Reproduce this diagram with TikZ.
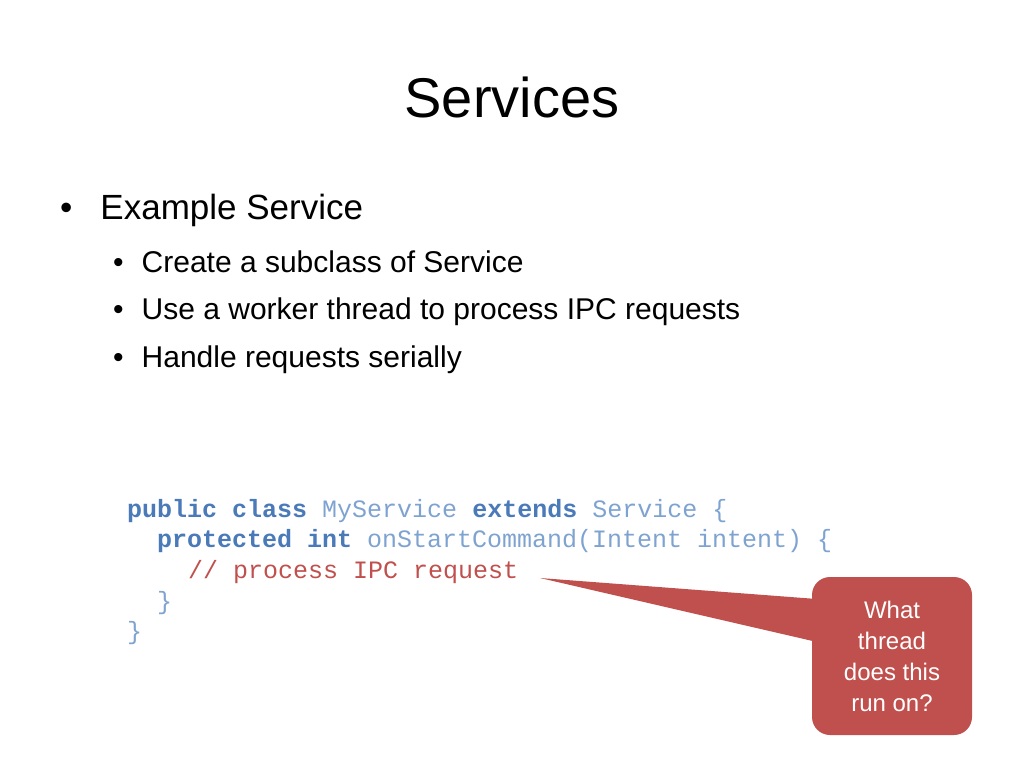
\documentclass[tikz,border=0pt]{standalone}
\usepackage{fontspec}
\setmainfont{Liberation Sans}
\setmonofont{Liberation Mono}
\definecolor{kw}{HTML}{4A7AB8}
\definecolor{lt}{HTML}{7FA3D0}
\definecolor{callred}{HTML}{C0504D}
\tikzset{txt/.style={anchor=west,inner sep=0pt},
code/.style={anchor=west,inner sep=0pt,font=\fontsize{25}{25}\ttfamily}}
\begin{document}
\begin{tikzpicture}[x=1pt,y=-1pt]
\useasboundingbox (0,0) rectangle (1024,768);
\node (title) at (512,97) {\fontsize{56}{56}\selectfont Services};
\node[txt] (b0) at (60,210) {\fontsize{35}{35}\selectfont\textbullet\hspace{28pt}Example Service};
\node[txt] (b1) at (113,262) {\fontsize{30}{30}\selectfont\textbullet\hspace{18pt}Create a subclass of Service};
\node[txt] (b2) at (113,312) {\fontsize{30}{30}\selectfont\textbullet\hspace{18pt}Use a worker thread to process IPC requests};
\node[txt] (b3) at (113,360) {\fontsize{30}{30}\selectfont\textbullet\hspace{18pt}Handle requests serially};
\node[code] (c1) at (127,511) {\textcolor{kw}{\bfseries public class} \textcolor{lt}{MyService} \textcolor{kw}{\bfseries extends} \textcolor{lt}{Service \{}};
\node[code] (c2) at (157,541) {\textcolor{kw}{\bfseries protected int} \textcolor{lt}{onStartCommand(Intent intent) \{}};
\node[code] (c3) at (188,572) {\textcolor{callred}{// process IPC request}};
\node[code] (c4) at (157,603) {\textcolor{lt}{\}}};
\node[code] (c5) at (127,633) {\textcolor{lt}{\}}};
\coordinate (tip) at (540,578);
\fill[callred] (tip) -- (830,600) -- (830,645) -- cycle;
\node[fill=callred,rounded corners=18pt,minimum width=160pt,minimum height=158pt,inner sep=0pt] (call) at (892,656) {};
\node[text=white,align=center,font=\fontsize{24}{31}\selectfont] (ct) at (892,656) {What\\thread\\does this\\run on?};
\end{tikzpicture}
\end{document}
